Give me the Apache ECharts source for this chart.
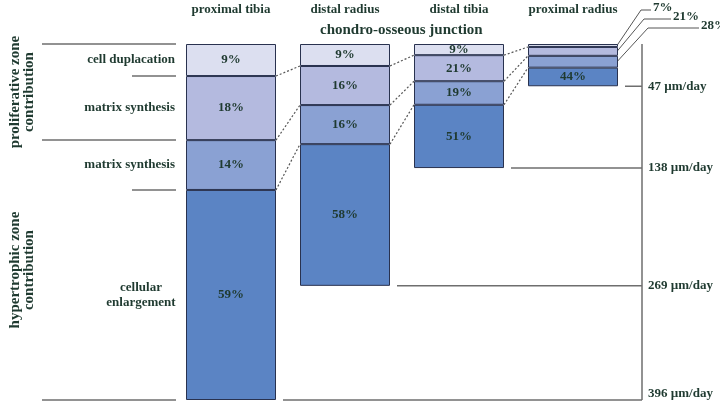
<!DOCTYPE html>
<html>
<head>
<meta charset="utf-8">
<script src="https://cdn.jsdelivr.net/npm/echarts@6/dist/echarts.min.js"></script>
<style>
  html, body { margin: 0; padding: 0; background: #fff; }
  #chart { width: 720px; height: 402px; }
</style>
</head>
<body>
<div id="chart"></div>
<script>
const bones = ['proximal tibia', 'distal radius', 'distal tibia', 'proximal radius']
const rates = [396, 269, 138, 47]
const cellDuplication = [9, 9, 9, 7]
const matrixProliferative = [18, 16, 21, 21]
const matrixHypertrophic = [14, 16, 19, 28]
const cellEnlargement = [59, 58, 51, 44]
const segmentNames = ['cell duplacation', 'matrix synthesis', 'matrix synthesis', 'cellular\nenlargement']
const zoneNames = ['proliferative zone\ncontribution', 'hypertrophic zone\ncontribution']
const rateUnit = 'µm/day'

const segments = [cellDuplication, matrixProliferative, matrixHypertrophic, cellEnlargement]
const colors = ['#dcdff0', '#b4badf', '#8aa1d3', '#5b84c4']
const textColor = '#1f3a30'
const lineColor = '#6e6e6e'
const font = '"Liberation Serif", "DejaVu Serif", serif'
const barHalf = 45

// segment heights in µm/day, each bar scaled to its growth rate
const heights = segments.map((seg) => seg.map((p, i) => {
  let total = 0
  for (let k = 0; k < segments.length; k++) total += segments[k][i]
  return rates[i] * p / total
}))
// cumulative boundaries per bar
const cum = bones.map((b, i) => {
  let out = [0]
  for (let k = 0; k < segments.length; k++) out.push(out[k] + heights[k][i])
  return out
})

function txt(x, y, text, opts) {
  return {
    type: 'text',
    x: x,
    y: y,
    rotation: (opts && opts.rotation) || 0,
    style: {
      text: text,
      fill: textColor,
      font: 'bold ' + ((opts && opts.size) || 13) + 'px ' + font,
      align: (opts && opts.align) || 'left',
      verticalAlign: 'middle',
      lineHeight: (opts && opts.lineHeight) || 15
    }
  }
}

function seg(x1, y1, x2, y2, style) {
  return { type: 'line', shape: { x1: x1, y1: y1, x2: x2, y2: y2 }, style: style }
}

const solid = { stroke: lineColor, lineWidth: 1.5 }

const barSeries = segments.map((s, k) => ({
  type: 'bar',
  name: segmentNames[k],
  stack: 'growth',
  barWidth: 90,
  silent: true,
  animation: false,
  data: s.map((p, i) => ({
    value: heights[k][i],
    pct: p,
    label: { show: !(i === bones.length - 1 && k < 3) }
  })),
  itemStyle: { color: colors[k], borderColor: '#29324f', borderWidth: 1 },
  label: {
    show: true,
    position: 'inside',
    formatter: (p) => p.data.pct + '%',
    fontFamily: font,
    fontWeight: 'bold',
    fontSize: 13,
    color: textColor
  }
}))

// dotted lines joining matching boundaries of neighbouring bars
const connectorSeries = {
  type: 'custom',
  silent: true,
  animation: false,
  data: bones.slice(0, -1).map((b, i) => [i, 0]),
  encode: { x: 0, y: 1 },
  renderItem: (params, api) => {
    const i = params.dataIndex
    let children = []
    for (let k = 1; k < segments.length; k++) {
      const a = api.coord([i, cum[i][k]])
      const b = api.coord([i + 1, cum[i + 1][k]])
      children.push(seg(a[0] + barHalf, a[1], b[0] - barHalf, b[1],
        { stroke: '#555', lineWidth: 1.2, lineDash: [2, 2] }))
    }
    return { type: 'group', children: children }
  }
}

// growth rate scale on the right
const rateSeries = {
  type: 'custom',
  silent: true,
  animation: false,
  data: bones.map((b, i) => [i, rates[i]]),
  encode: { x: 0, y: 1 },
  renderItem: (params, api) => {
    const i = params.dataIndex
    const p = api.coord([i, rates[i]])
    const axisX = api.coord([bones.length - 1, 0])[0] + barHalf + 24
    let children = [
      seg(p[0] + barHalf + 7, p[1], axisX, p[1], solid),
      txt(axisX + 6, Math.min(p[1], 394), rates[i] + ' ' + rateUnit)
    ]
    if (i === 0) {
      const top = api.coord([0, 0])[1]
      children.push(seg(axisX, top, axisX, p[1], solid))
    }
    return { type: 'group', children: children }
  }
}

// zone brackets and labels on the left, aligned with the first bar
const leftSeries = {
  type: 'custom',
  silent: true,
  animation: false,
  data: [[0, 0]],
  encode: { x: 0, y: 1 },
  renderItem: (params, api) => {
    const c = cum[0]
    const barLeft = api.coord([0, 0])[0] - barHalf
    const yOf = (v) => api.coord([0, v])[1]
    let children = []
    ;[0, 2, 4].forEach((k) => children.push(seg(barLeft - 144, yOf(c[k]), barLeft - 10, yOf(c[k]), solid)))
    ;[1, 3].forEach((k) => children.push(seg(barLeft - 54, yOf(c[k]), barLeft - 10, yOf(c[k]), solid)))
    for (let k = 0; k < segmentNames.length; k++) {
      const y = yOf((c[k] + c[k + 1]) / 2)
      if (segmentNames[k].indexOf('\n') >= 0) {
        children.push(txt(barLeft - 45, y, segmentNames[k], { align: 'center' }))
      } else {
        children.push(txt(barLeft - 11, y, segmentNames[k], { align: 'right' }))
      }
    }
    children.push(txt(barLeft - 164, yOf((c[0] + c[2]) / 2), zoneNames[0],
      { align: 'center', rotation: Math.PI / 2, size: 15, lineHeight: 14 }))
    children.push(txt(barLeft - 164, yOf((c[2] + c[4]) / 2), zoneNames[1],
      { align: 'center', rotation: Math.PI / 2, size: 15, lineHeight: 14 }))
    return { type: 'group', children: children }
  }
}

// leader lines for the thin segments of the last bar
const leaderY = [10, 19, 28]
const leaderDx = [23, 26, 30]
const leaderEnd = [33, 53, 81]
const leaderSeries = {
  type: 'custom',
  silent: true,
  animation: false,
  data: [[bones.length - 1, 0]],
  encode: { x: 0, y: 1 },
  renderItem: (params, api) => {
    const i = bones.length - 1
    const right = api.coord([i, 0])[0] + barHalf
    let children = []
    for (let k = 0; k < 3; k++) {
      const y = api.coord([i, (cum[i][k] + cum[i][k + 1]) / 2])[1]
      children.push({
        type: 'polyline',
        shape: { points: [[right - 1, y], [right + leaderDx[k], leaderY[k]], [right + leaderEnd[k], leaderY[k]]] },
        style: { stroke: '#555', lineWidth: 1, fill: null }
      })
      children.push(txt(right + leaderEnd[k] + 2, leaderY[k] - 2, segments[k][i] + '%'))
    }
    return { type: 'group', children: children }
  }
}

const chart = echarts.init(document.getElementById('chart'))
chart.setOption({
  animation: false,
  title: {
    text: 'chondro-osseous junction',
    left: 320,
    top: 23,
    textStyle: { fontFamily: font, fontWeight: 'bold', fontSize: 15, color: textColor },
    padding: 0
  },
  grid: { left: 174, right: 90, top: 44, bottom: 2, outerBoundsMode: 'none' },
  xAxis: {
    type: 'category',
    data: bones,
    position: 'top',
    axisLine: { show: false },
    axisTick: { show: false },
    splitLine: { show: false },
    axisLabel: { interval: 0, margin: 28, fontFamily: font, fontWeight: 'bold', fontSize: 13, color: textColor }
  },
  yAxis: {
    type: 'value',
    inverse: true,
    min: 0,
    max: Math.max(...rates),
    show: false
  },
  series: barSeries.concat([connectorSeries, rateSeries, leftSeries, leaderSeries])
})
</script>
</body>
</html>
